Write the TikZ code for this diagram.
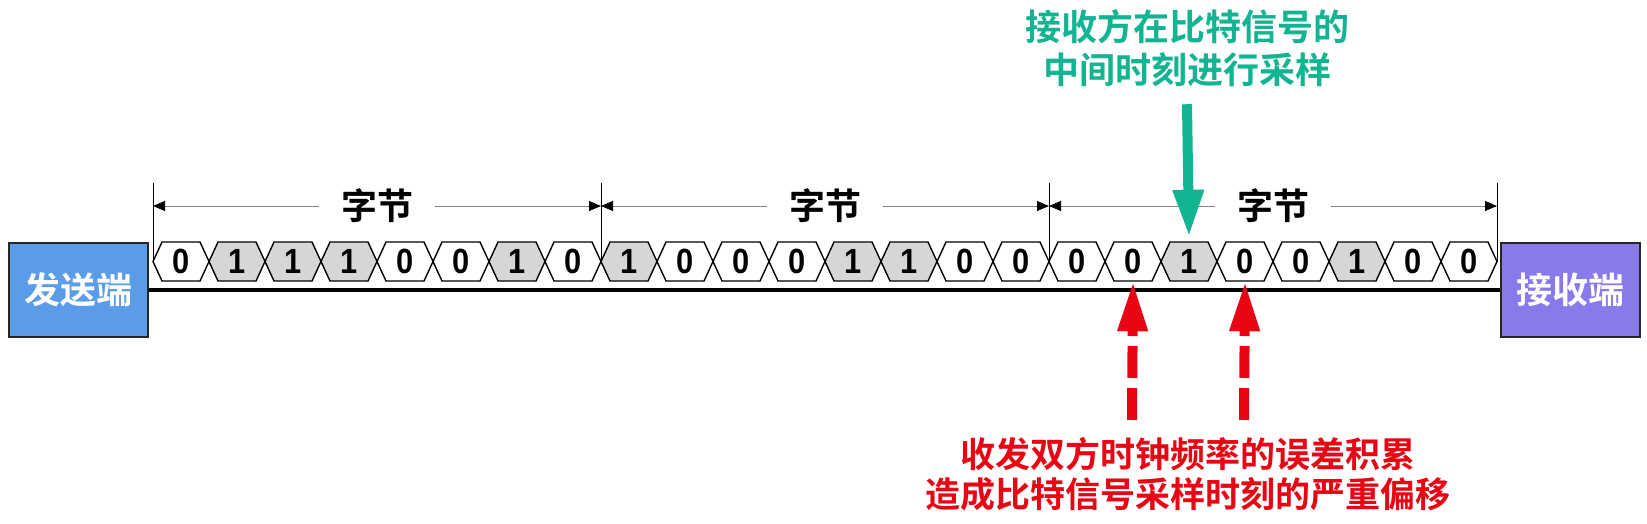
\documentclass[tikz,border=0pt]{standalone}
\usepackage{fontspec}
\setmainfont{Liberation Sans}
\newfontfamily\bitfont{Liberation Sans}[FakeStretch=0.88]
\newfontfamily\cjk{Noto Sans CJK SC Bold}
\usetikzlibrary{arrows.meta}
\definecolor{senderblue}{RGB}{90,156,232}
\definecolor{receiverpurple}{RGB}{137,122,236}
\definecolor{bitgray}{RGB}{214,214,216}
\definecolor{samplegreen}{RGB}{18,180,145}
\definecolor{driftred}{RGB}{232,6,20}

\begin{document}
\begin{tikzpicture}[x=1pt,y=-1pt,
  endbox/.style={draw=black!85,line width=2pt,minimum width=139pt,minimum height=94pt,
    inner sep=0pt,text=white,font=\cjk\fontsize{36}{40}\selectfont},
  digit/.style={minimum width=56pt,minimum height=39pt,inner sep=0pt,
    font=\bitfont\bfseries\fontsize{35}{36}\selectfont},
  cell/.style={draw,line width=1.4pt,line join=miter},
  cell0/.style={fill=white},
  cell1/.style={fill=bitgray},
  dim/.style={gray,line width=0.9pt,
    {Triangle[black,length=12pt,width=10pt]}-{Triangle[black,length=12pt,width=10pt]}},
  bytelabel/.style={fill=white,text=black,inner xsep=22pt,inner ysep=2pt,
    font=\cjk\fontsize{36}{40}\selectfont},
  samplearrow/.style={samplegreen,line width=10pt,-{Triangle[length=47pt,width=29pt]}},
  driftarrow/.style={driftred,line width=10pt,dash pattern=on 32pt off 10pt,
    -{Triangle[length=50pt,width=28pt]}}]

\useasboundingbox (0,0) rectangle (1647,523);

\node[endbox,fill=senderblue] (sender) at (78.5,290) {发送端};
\node[endbox,fill=receiverpurple] (receiver) at (1570,290) {接收端};
\draw[line width=4pt] (sender) -- (receiver);

% bit cells
\foreach \v [count=\i] in {0,1,1,1,0,0,1,0, 1,0,0,0,1,1,0,0, 0,0,1,0,0,1,0,0} {
  \draw[cell,cell\v] (97+56*\i,261.5) -- ++(9,-19.5) -- ++(38,0) -- ++(9,19.5)
    -- ++(-9,19.5) -- ++(-38,0) -- cycle;
  \node[digit] (b\i) at (125+56*\i,261.5) {\v};
}

% byte boundaries
\foreach \k in {0,...,3} {
  \coordinate (t\k) at (153+448*\k,183);
  \coordinate (d\k) at (153+448*\k,206);
  \draw[line width=0.9pt] (t\k) -- ++(0,79);
}
\foreach \k [evaluate=\k as \n using int(\k+1)] in {0,1,2}
  \draw[dim] (d\k) -- node[bytelabel] {字节} (d\n);

\node[align=center,text=samplegreen,font=\cjk\fontsize{36}{43}\selectfont]
  (sample) at (1187,48) {接收方在比特信号的\\中间时刻进行采样};
\draw[samplearrow] ([yshift=-14pt]sample.south) -- ([yshift=5pt]b19.north);

\node[align=center,text=driftred,font=\cjk\fontsize{35}{40}\selectfont]
  (drift) at (1188,474.5) {收发双方时钟频率的误差积累\\造成比特信号采样时刻的严重偏移};
\coordinate (r18) at (1132,420);
\coordinate (r20) at (1244,420);
\draw[driftarrow] (r18) -- (b18.south);
\draw[driftarrow] (r20) -- (b20.south);

\end{tikzpicture}
\end{document}
